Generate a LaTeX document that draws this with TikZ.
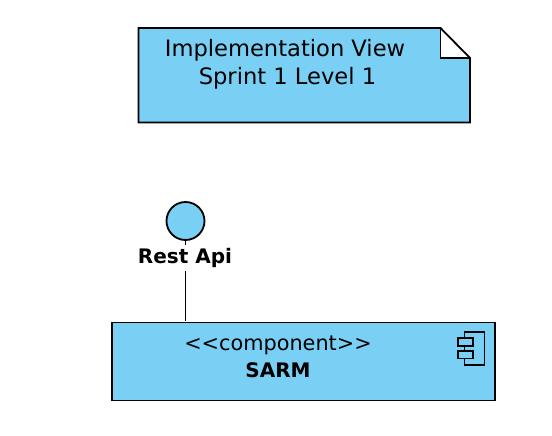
\documentclass[tikz,border=0pt]{standalone}
\usepackage{fontspec}
\setmainfont{DejaVu Sans}
\definecolor{umlblue}{RGB}{122,207,245}
\tikzset{
  shapeline/.style={draw=black,line width=1.8pt,line join=miter},
  umlbox/.style={shapeline,fill=umlblue,rectangle,inner sep=0pt},
  plainlabel/.style={font=\fontsize{22.6}{28}\selectfont,text=black,inner sep=0pt,align=center},
  stereolabel/.style={font=\fontsize{20.8}{24}\selectfont,text=black,inner sep=0pt,align=center},
  boldlabel/.style={font=\fontsize{20}{24}\selectfont\bfseries,text=black,inner sep=0pt,align=center}
}
\begin{document}
\begin{tikzpicture}[x=1pt,y=-1pt]
\useasboundingbox (0,0) rectangle (552,436);
% note
\fill[umlblue] (138.5,28) -- (440.5,28) -- (470,58) -- (470,122.5) -- (138.5,122.5) -- cycle;
\fill[white] (440.5,28) -- (470,58) -- (440.5,58) -- cycle;
\draw[shapeline] (138.5,28) -- (440.5,28) -- (470,58) -- (470,122.5) -- (138.5,122.5) -- cycle;
\draw[shapeline] (440.5,28) -- (440.5,58) -- (470,58);
\node[plainlabel] (title) at (285,64) {Implementation View\\\hspace*{5pt}Sprint 1 Level 1};
% component
\node[umlbox,minimum width=383pt,minimum height=78pt] (comp) at (303.5,361.5) {};
\node[stereolabel] (stereo) at (278,345) {<{}<component>{}>};
\node[boldlabel] (name) at (278,370) {SARM};
% interface
\node[umlbox,circle,minimum size=38pt] (iface) at (185.5,221) {};
\coordinate (joint) at (iface.south |- comp.north);
\draw[shapeline,shorten >=1pt] (iface.south) -- (joint);
\node[boldlabel,fill=white,inner ysep=3pt] (api) at (185,258) {Rest Api};
% component icon
\draw[shapeline] (464.5,332) rectangle (484.5,365);
\draw[shapeline,fill=umlblue] (458,338) rectangle (473,346);
\draw[shapeline,fill=umlblue] (458,351) rectangle (473,358.5);
\end{tikzpicture}
\end{document}
